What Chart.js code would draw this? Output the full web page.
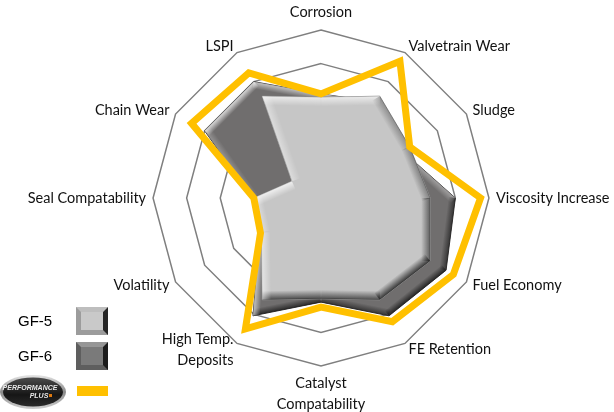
<!DOCTYPE html>
<html>
<head>
<meta charset="utf-8">
<script src="https://cdn.jsdelivr.net/npm/chart.js@4/dist/chart.umd.min.js"></script>
<style>
  html, body { margin: 0; padding: 0; background: #fff; overflow: hidden; }
  #wrap { position: relative; width: 614px; height: 412px; overflow: hidden; }
  #radar { position: absolute; left: 0; top: -8px; }
</style>
</head>
<body>
<div id="wrap"><canvas id="radar" width="614" height="434"></canvas></div>
<script>
// categories, clockwise from the top
const categories = ['Corrosion', 'Valvetrain Wear', 'Sludge', 'Viscosity Increase', 'Fuel Economy',
  'FE Retention', ['Catalyst', 'Compatability'], ['High Temp.', 'Deposits'], 'Volatility',
  'Seal Compatability', 'Chain Wear', 'LSPI'];

// values, scale 0..5
const gf5 = [3.0, 3.5, 3.05, 3.25, 3.75, 3.5, 3.0, 3.5, 2.05, 2.0, 1.0, 3.5];
const gf6 = [3.1, 3.3, 2.8, 4.0, 4.3, 4.05, 3.1, 4.05, 2.1, 2.05, 4.0, 4.0];
const perfPlus = [3.1, 4.7, 3.05, 4.75, 4.55, 4.25, 3.25, 4.5, 2.08, 2.0, 4.45, 4.3];

const legendNames = ['GF-5', 'GF-6'];

// canvas sits 8px above the window so the two-line labels get room
const offsetY = 8;

// directional bevel on the filled polygons (light from top-left)
const bevelPlugin = {
  id: 'bevel',
  afterDatasetDraw(chart, args) {
    const ds = chart.data.datasets[args.index];
    if (!ds.bevel) return;
    const pts = args.meta.data.map(p => ({ x: p.x, y: p.y }));
    const ctx = chart.ctx;
    ctx.save();
    ctx.beginPath();
    pts.forEach((p, i) => i ? ctx.lineTo(p.x, p.y) : ctx.moveTo(p.x, p.y));
    ctx.closePath();
    ctx.clip();
    const w = ds.bevel;
    let area = 0;
    for (let i = 0; i < pts.length; i++) {
      const a = pts[i], b = pts[(i + 1) % pts.length];
      area += a.x * b.y - b.x * a.y;
    }
    const sgn = area > 0 ? 1 : -1;
    for (let i = 0; i < pts.length; i++) {
      const a = pts[i], b = pts[(i + 1) % pts.length];
      const dx = b.x - a.x, dy = b.y - a.y;
      const len = Math.hypot(dx, dy) || 1;
      const nx = (dy / len) * sgn, ny = (-dx / len) * sgn;
      const dot = nx * -0.6 + ny * -0.8;
      const mx = (a.x + b.x) / 2, my = (a.y + b.y) / 2;
      const g = ctx.createLinearGradient(mx, my, mx - nx * w, my - ny * w);
      if (dot > 0) {
        g.addColorStop(0, 'rgba(255,255,255,' + (0.25 + 0.5 * dot).toFixed(2) + ')');
        g.addColorStop(1, 'rgba(255,255,255,0)');
      } else {
        g.addColorStop(0, 'rgba(20,20,20,' + (0.25 - 0.55 * dot).toFixed(2) + ')');
        g.addColorStop(1, 'rgba(20,20,20,0)');
      }
      ctx.strokeStyle = g;
      ctx.lineWidth = w * 2;
      ctx.beginPath();
      ctx.moveTo(a.x, a.y);
      ctx.lineTo(b.x, b.y);
      ctx.stroke();
    }
    ctx.restore();
  }
};

function bevelBox(ctx, x, y, w, h, outer, inner, dark) {
  ctx.fillStyle = outer;
  ctx.fillRect(x, y, w, h);
  ctx.fillStyle = dark;
  ctx.beginPath();
  ctx.moveTo(x + w, y); ctx.lineTo(x + w, y + h); ctx.lineTo(x + w - 5, y + h - 5); ctx.lineTo(x + w - 5, y + 5);
  ctx.closePath(); ctx.fill();
  ctx.fillStyle = 'rgba(255,255,255,0.35)';
  ctx.beginPath();
  ctx.moveTo(x, y); ctx.lineTo(x + w, y); ctx.lineTo(x + w - 5, y + 5); ctx.lineTo(x + 5, y + 5);
  ctx.closePath(); ctx.fill();
  ctx.fillStyle = inner;
  ctx.fillRect(x + 5, y + 5, w - 10, h - 10);
}

// legend block at the lower left
const legendPlugin = {
  id: 'sideLegend',
  afterDraw(chart) {
    const ctx = chart.ctx;
    ctx.save();
    ctx.translate(0, offsetY);
    ctx.font = '15px "Liberation Sans", Arial, sans-serif';
    ctx.fillStyle = '#000';
    ctx.textBaseline = 'middle';
    ctx.fillText(legendNames[0], 18, 322);
    ctx.fillText(legendNames[1], 18, 357);
    bevelBox(ctx, 76, 307, 32, 28, '#9c9c9c', '#c9c9c9', '#262626');
    bevelBox(ctx, 76, 342, 32, 28, '#5e5e5e', '#7a7a7a', '#1c1c1c');
    ctx.fillStyle = '#ffc000';
    ctx.fillRect(77, 386, 31, 10);

    // Performance Plus badge
    ctx.beginPath();
    ctx.ellipse(33, 392, 33, 17, 0, 0, Math.PI * 2);
    const rim = ctx.createLinearGradient(0, 375, 0, 409);
    rim.addColorStop(0, '#e6e6e6'); rim.addColorStop(0.5, '#8a8a8a'); rim.addColorStop(1, '#d0d0d0');
    ctx.fillStyle = rim; ctx.fill();
    ctx.beginPath();
    ctx.ellipse(33, 392, 30, 14.5, 0, 0, Math.PI * 2);
    const body = ctx.createLinearGradient(0, 378, 0, 406);
    body.addColorStop(0, '#4a4a4a'); body.addColorStop(0.6, '#161616'); body.addColorStop(1, '#2a2a2a');
    ctx.fillStyle = body; ctx.fill();
    ctx.fillStyle = '#e8e8e8';
    ctx.font = 'italic bold 7px "Liberation Sans Narrow", "Liberation Sans", sans-serif';
    ctx.textAlign = 'center';
    ctx.fillText('PERFORMANCE', 30, 388);
    ctx.fillText('PLUS', 39, 396);
    ctx.fillStyle = '#e07a10';
    ctx.fillRect(49, 394, 3, 3);
    ctx.restore();
  }
};

new Chart(document.getElementById('radar'), {
  type: 'radar',
  data: {
    labels: categories,
    datasets: [
      {
        label: 'Performance Plus',
        data: perfPlus,
        borderColor: '#ffc000',
        borderWidth: 7,
        borderJoinStyle: 'miter',
        fill: false,
        pointRadius: 0
      },
      {
        label: 'GF-5',
        data: gf5,
        backgroundColor: '#c6c6c6',
        borderColor: '#8e8e8e',
        borderWidth: 1,
        fill: true,
        pointRadius: 0,
        bevel: 9
      },
      {
        label: 'GF-6',
        data: gf6,
        backgroundColor: '#706e6e',
        borderColor: '#3a3838',
        borderWidth: 1,
        fill: true,
        pointRadius: 0,
        bevel: 7
      }
    ]
  },
  options: {
    responsive: false,
    animation: false,
    layout: { padding: { left: 25, right: 0, top: 0, bottom: 0 } },
    plugins: {
      legend: { display: false },
      tooltip: { enabled: false }
    },
    elements: { line: { tension: 0 } },
    scales: {
      r: {
        min: 0,
        max: 5,
        ticks: { display: false, stepSize: 1 },
        angleLines: { display: false },
        grid: { color: '#7f7f7f', lineWidth: 1.5 },
        pointLabels: {
          color: '#111',
          padding: 7,
          font: { family: 'Lato, "Open Sans", sans-serif', size: 14.5, lineHeight: 1.45 }
        },
        // diagonal labels sit vertically centred on their spoke, as in the original
        afterFit(scale) {
          (scale._pointLabelItems || []).forEach((item, i) => {
            const deg = Math.round(scale.getIndexAngle(i) * 180 / Math.PI) % 360;
            if (deg % 90 === 0) return;
            const h = item.bottom - item.top;
            const dy = (deg < 90 || deg > 270) ? h / 2 : -h / 2;
            item.y += dy;
            item.top += dy;
            item.bottom += dy;
          });
        }
      }
    }
  },
  plugins: [bevelPlugin, legendPlugin]
});
</script>
</body>
</html>
